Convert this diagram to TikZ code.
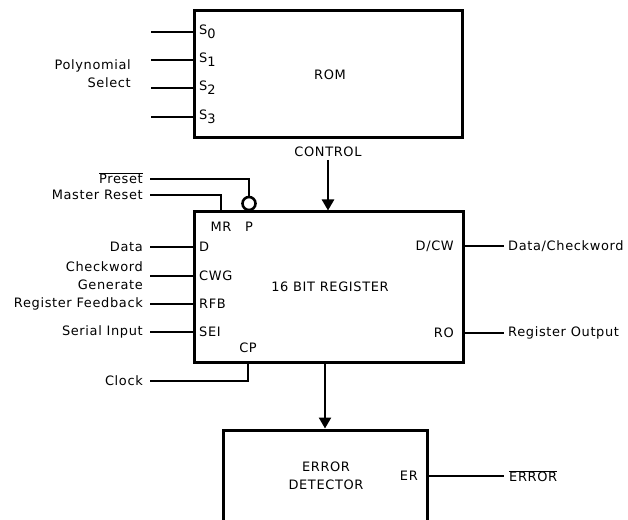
\documentclass[tikz,border=0pt]{standalone}
\usepackage{fontspec}
\setmainfont{DejaVu Sans}[LetterSpace=5]
\usetikzlibrary{positioning, arrows.meta, calc}
\tikzset{
	blocknode/.style={
			shape=rectangle,
			draw=black,
			line width=3bp,
			inner sep=0pt
		},
	pinnode/.style={
			font=\fontsize{13}{18}\selectfont,
			inner sep=0pt
		},
	sigtext/.style={
			pinnode,
			align=right,
			anchor=east
		},
	sigline/.style={
			line width=2.2bp
		},
	busarrow/.style={
			line width=2.4bp,
			-{Triangle[width=12bp,length=11bp]}
		}
}

\begin{document}
\begin{tikzpicture}[x=1bp, y=-1bp]
	\useasboundingbox (0,0) rectangle (628,520);
	\clip (0,0) rectangle (628,520);

	% blocks
	\node[blocknode, minimum width=268bp, minimum height=127bp] (rom) at (328,74.5) {};
	\node[blocknode, minimum width=269bp, minimum height=150bp] (reg) at (328.5,287) {};
	\node[blocknode, minimum width=204bp, minimum height=120bp] (err) at (325,490) {};

	\node[pinnode] (romtxt) at (330,75) {ROM};
	\node[pinnode] (regtxt) at (330,287) {16 BIT REGISTER};
	\node[pinnode, align=center] (errtxt) at (326,476) {ERROR\\DETECTOR};

	% ROM select inputs
	\foreach \i/\y in {0/32, 1/60, 2/88, 3/117} {
			\node[pinnode, anchor=west] (s\i) at (199,\y) {S\raisebox{-0.55ex}{\i}};
			\coordinate (sin\i) at (151,\y);
			\draw[sigline] (sin\i) -- (sin\i -| rom.west);
		}
	\node[sigtext] (polysel) at (131,74) {Polynomial\\Select};

	% control bus
	\node[pinnode] (ctrl) at (328,152) {CONTROL};
	\draw[busarrow] (ctrl.south |- 0,160) -- (ctrl.south |- reg.north);

	% preset and master reset
	\node[pinnode] (mr) at (221,227) {MR};
	\node[pinnode] (p) at (249,227) {P};
	\node[circle, draw, line width=2.6bp, minimum size=13bp, inner sep=0pt] (bubble) at (249,203.5) {};
	\coordinate (prein) at (150,179);
	\coordinate (mrin) at (150,195);
	\draw[sigline] (prein) -| (bubble.north);
	\draw[sigline] (mrin) -| (mr |- reg.north);
	\node[sigtext] (pretxt) at (143,178) {$\overline{\mbox{Preset}}$};
	\node[sigtext] (mrtxt) at (143,195) {Master Reset};

	% register inputs
	\foreach \nm/\pin/\y in {d/D/247, cwg/CWG/276, rfb/RFB/304, sei/SEI/332} {
			\node[pinnode, anchor=west] (\nm) at (199,\y) {\pin};
			\coordinate (\nm in) at (150,\y);
			\draw[sigline] (\nm in) -- (\nm in -| reg.west);
		}
	\node[sigtext] (dtxt) at (143,247) {Data};
	\node[sigtext] (cwgtxt) at (143,275.5) {Checkword\\Generate};
	\node[sigtext] (rfbtxt) at (143,304) {Register Feedback};
	\node[sigtext] (seitxt) at (143,332) {Serial Input};

	% clock
	\node[pinnode] (cp) at (248,348) {CP};
	\coordinate (clkin) at (150,381);
	\draw[sigline] (clkin) -| (cp |- reg.south);
	\node[sigtext] (clktxt) at (143,381) {Clock};

	% register outputs
	\node[pinnode, anchor=east] (dcw) at (454,246) {D/CW};
	\node[pinnode, anchor=east] (ro) at (454,333) {RO};
	\coordinate (dcwout) at (504,246);
	\coordinate (roout) at (504,333);
	\draw[sigline] (dcw -| reg.east) -- (dcwout);
	\draw[sigline] (ro -| reg.east) -- (roout);
	\node[pinnode, anchor=west] (dcwtxt) at (508,246) {Data/Checkword};
	\node[pinnode, anchor=west] (rotxt) at (508,333) {Register Output};

	% register to error detector
	\draw[busarrow] (reg.south -| err.north) -- (err.north);

	% error output
	\node[pinnode, anchor=east] (er) at (418,476) {ER};
	\coordinate (errout) at (504,476);
	\draw[sigline] (er -| err.east) -- (errout);
	\node[pinnode, anchor=west] (errtxt2) at (509,476) {$\overline{\mbox{ERROR}}$};
\end{tikzpicture}
\end{document}
